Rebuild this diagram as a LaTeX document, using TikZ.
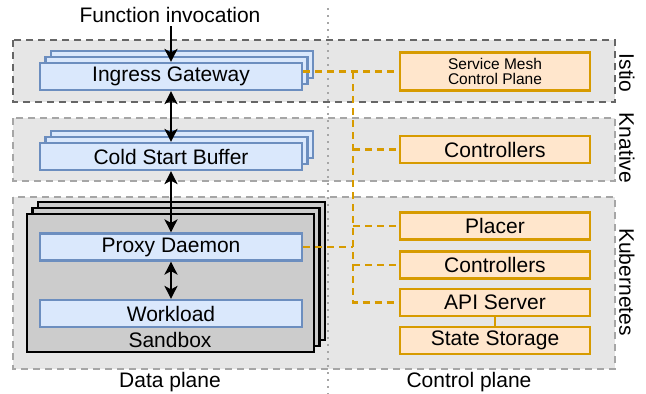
\documentclass[tikz,border=0pt]{standalone}
\usepackage{fontspec}
\setmainfont{Liberation Sans}
\usetikzlibrary{shadows,arrows.meta}
\definecolor{dpfill}{HTML}{DAE8FC}
\definecolor{dpline}{HTML}{6C8EBF}
\definecolor{cpfill}{HTML}{FFE6CC}
\definecolor{cpline}{HTML}{D79B00}
\definecolor{layerfill}{HTML}{E6E6E6}

\begin{document}
\begin{tikzpicture}[x=1pt, y=-1pt,
    every node/.style={font=\fontsize{21}{24}\selectfont},
    >={Stealth[length=13pt,width=13pt,inset=3.5pt]},
    layer/.style={draw=#1, fill=layerfill, line width=2.2pt, dash pattern=on 7pt off 5pt},
    dp/.style={draw=dpline, fill=dpfill, line width=2.2pt, minimum width=262pt, minimum height=27pt, inner sep=0pt},
    cp/.style={draw=cpline, fill=cpfill, line width=2.2pt, minimum width=190pt, minimum height=27pt, inner sep=0pt},
    stacked/.style={double copy shadow={shadow xshift=5.5pt, shadow yshift=6pt}},
    link/.style={cpline, line width=2.2pt, dash pattern=on 7pt off 5pt},
    flow/.style={line width=2.2pt}]
        \useasboundingbox (0,0) rectangle (646,394);
        \draw[layer=black!60] (13,40) rectangle (615,102);
        \draw[layer=black!35] (13,118) rectangle (615,181);
        \draw[layer=black!35] (13,197) rectangle (615,369);
        \draw[black!35, line width=1.5pt, dash pattern=on 2pt off 5pt] (328,8) -- (328,394);
        \node[rotate=-90] (istio) at (627,73) {Istio};
        \node[rotate=-90] (knative) at (627,148) {Knative};
        \node[rotate=-90] (k8s) at (627,282) {Kubernetes};
        \node (invoke) at (170,15) {Function invocation};
        \node[dp, stacked] (ingress) at (171,76.5) {Ingress Gateway};
        \node[dp, stacked] (buffer) at (171,156.5) {Cold Start Buffer};
        \node[draw=black, fill=black!20, line width=2.2pt, minimum width=287pt, minimum height=138pt, stacked] (sandbox) at (170.5,283) {};
        \node[dp] (proxy) at (171,247) {Proxy Daemon};
        \node[dp] (workload) at (171,313.5) {Workload};
        \node (sblabel) at (170,340) {Sandbox};
        \node (dataplane) at (170,382) {Data plane};
        \node (ctrlplane) at (469,382) {Control plane};
        \node[cp, minimum height=38pt, font=\fontsize{15.5}{15.5}\selectfont, align=center] (mesh) at (495,71.5) {Service Mesh\\Control Plane};
        \node[cp] (knctrl) at (495,149.5) {Controllers};
        \node[cp] (placer) at (495,226) {Placer};
        \node[cp] (k8sctrl) at (495,265) {Controllers};
        \node[cp] (api) at (495,302.5) {API Server};
        \node[cp] (store) at (495,340.5) {State Storage};
        \coordinate (trunk) at (353,72);
        \draw[link] (ingress.east |- mesh.west) -- (mesh.west);
        \draw[link] (trunk) -- (trunk |- api.west) -- (api.west);
        \draw[link] (trunk |- knctrl.west) -- (knctrl.west);
        \draw[link] (trunk |- placer.west) -- (placer.west);
        \draw[link] (trunk |- k8sctrl.west) -- (k8sctrl.west);
        \draw[link] (proxy.east) -- (trunk |- proxy.east);
        \draw[cpline, line width=2.2pt] (api.south) -- (store.north);
        \draw[flow, ->] (invoke.south -| ingress.north) -- (ingress.north);
        \draw[flow, <->] (ingress.south) -- (buffer.north);
        \draw[flow, <->] (buffer.south) -- (proxy.north);
        \draw[flow, <->] (proxy.south) -- (workload.north);
\end{tikzpicture}
\end{document}
